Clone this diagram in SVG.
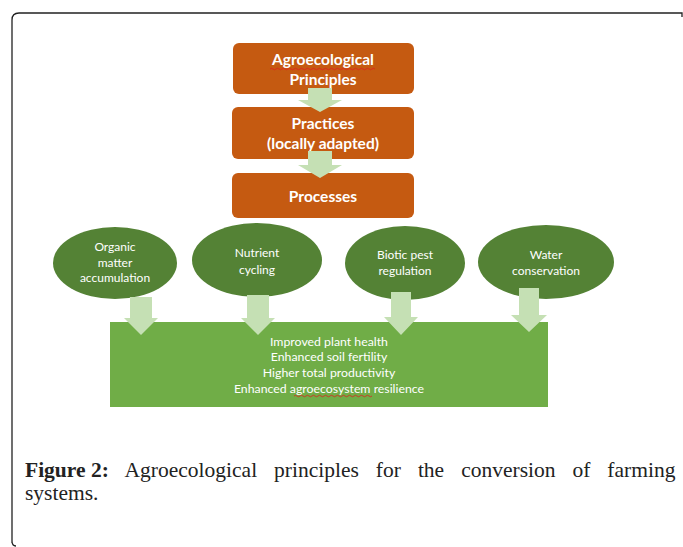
<svg xmlns="http://www.w3.org/2000/svg" width="683" height="547" viewBox="0 0 683 547">
<style>
.box{fill:#C55A11}
.ell{fill:#548235}
.res{fill:#70AD47}
.arr{fill:#C5E0B4}
.bt{font-family:Lato,"Open Sans",sans-serif;font-weight:bold;font-size:15.5px;fill:#fff;text-anchor:middle}
.et{font-family:Lato,"Open Sans",sans-serif;font-size:12px;fill:#fff;text-anchor:middle}
.rt{font-family:Lato,"Open Sans",sans-serif;font-size:12.3px;fill:#fff;text-anchor:middle}
.cap{font-family:"Liberation Serif",serif;font-size:21.5px;fill:#222}
.sq{fill:none;stroke:#e02020;stroke-width:0.8}
</style>
<rect width="683" height="547" fill="#fff"/>
<path d="M12,543 V20 Q12,13 19,13 H682 V17 M12,541 Q12,546 16,546" fill="none" stroke="#222" stroke-width="1.3"/>
<g id="principles">
<rect class="box" x="233" y="43" width="181" height="51" rx="6"/>
<text class="bt" x="323" y="65">Agroecological</text>
<text class="bt" x="323" y="85">Principles</text>
<path class="sq" d="M270,69 q1.5,-1.5 3,0 t3,0 t3,0 t3,0 t3,0 t3,0 t3,0 t3,0 t3,0 t3,0 t3,0 t3,0 t3,0 t3,0 t3,0 t3,0 t3,0 t3,0 t3,0 t3,0 t3,0 t3,0 t3,0 t3,0 t3,0 t3,0 t3,0 t3,0 t3,0 t3,0 t3,0 t3,0 t3,0 t3,0 t3,0"/>
</g>
<g id="practices">
<rect class="box" x="232" y="107" width="182" height="52" rx="6"/>
<text class="bt" x="323" y="129">Practices</text>
<text class="bt" x="323" y="149">(locally adapted)</text>
</g>
<g id="processes">
<rect class="box" x="232" y="173" width="182" height="45" rx="6"/>
<text class="bt" x="323" y="202">Processes</text>
</g>
<g id="organic">
<ellipse class="ell" cx="115" cy="263" rx="62" ry="36"/>
<text class="et" x="115" y="251">Organic</text>
<text class="et" x="115" y="267">matter</text>
<text class="et" x="115" y="282">accumulation</text>
</g>
<g id="nutrient">
<ellipse class="ell" cx="257" cy="260" rx="65" ry="37"/>
<text class="et" x="257" y="257">Nutrient</text>
<text class="et" x="257" y="274">cycling</text>
</g>
<g id="biotic">
<ellipse class="ell" cx="405" cy="263" rx="60" ry="37"/>
<text class="et" x="405" y="259">Biotic pest</text>
<text class="et" x="405" y="275">regulation</text>
</g>
<g id="water">
<ellipse class="ell" cx="546" cy="262" rx="68" ry="37"/>
<text class="et" x="546" y="259">Water</text>
<text class="et" x="546" y="275">conservation</text>
</g>
<g id="outcomes">
<rect class="res" x="110" y="322" width="438" height="85"/>
<text class="rt" x="329" y="346">Improved plant health</text>
<text class="rt" x="329" y="361">Enhanced soil fertility</text>
<text class="rt" x="329" y="377">Higher total productivity</text>
<text class="rt" x="329" y="393">Enhanced agroecosystem resilience</text>
<path class="sq" d="M294,396 q1.5,-1.5 3,0 t3,0 t3,0 t3,0 t3,0 t3,0 t3,0 t3,0 t3,0 t3,0 t3,0 t3,0 t3,0 t3,0 t3,0 t3,0 t3,0 t3,0 t3,0 t3,0 t3,0 t3,0 t3,0 t3,0 t3,0 t3,0"/>
</g>
<g id="connectors">
<polygon class="arr" points="308,88 332,88 332,100 342,100 320,112 298,100 308,100"/>
<polygon class="arr" points="308,151 332,151 332,165 342,165 320,178 298,165 308,165"/>
<polygon class="arr" points="130,297 152,297 152,318 158,318 141,335 124,318 130,318"/>
<polygon class="arr" points="247,295 269,295 269,318 275,318 258,335 241,318 247,318"/>
<polygon class="arr" points="391,292 411,292 411,317 418,317 401,335 384,317 391,317"/>
<polygon class="arr" points="519,288 539,288 539,315 547,315 529,332 511,315 519,315"/>
</g>
<text class="cap" x="25" y="477" word-spacing="11.6"><tspan font-weight="bold" word-spacing="0">Figure 2:</tspan> Agroecological principles for the conversion of farming</text>
<text class="cap" x="25" y="500">systems.</text>
</svg>
